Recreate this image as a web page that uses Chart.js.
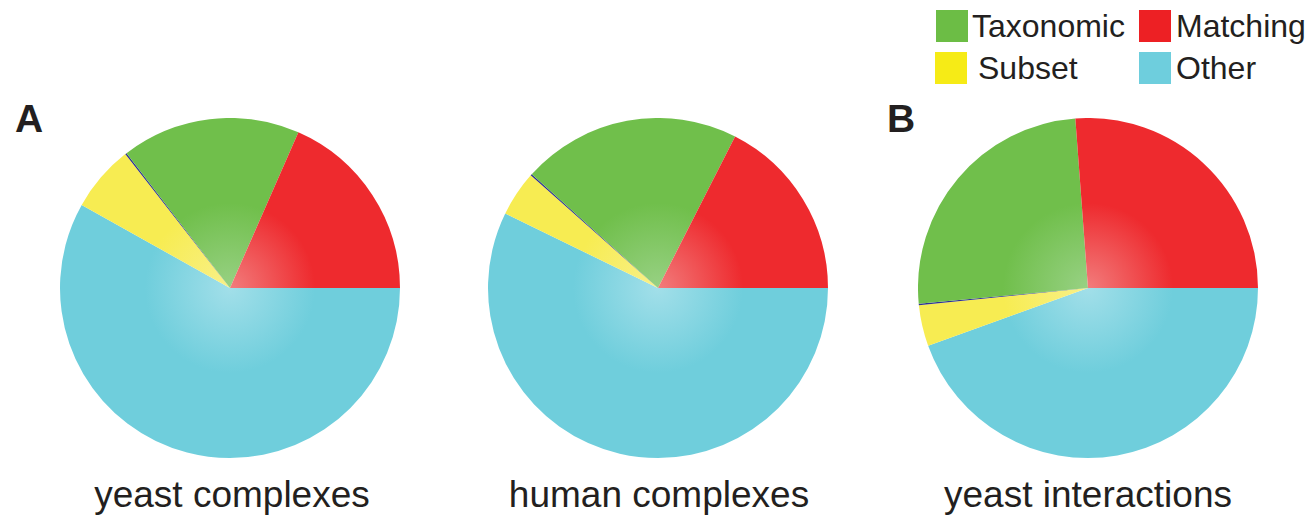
<!DOCTYPE html>
<html>
<head>
<meta charset="utf-8">
<script src="https://cdn.jsdelivr.net/npm/chart.js@4.4.1/dist/chart.umd.min.js"></script>
<style>
  html, body { margin: 0; padding: 0; background: #fff; }
  body { width: 1315px; height: 516px; position: relative; overflow: hidden; font-family: "Liberation Sans", Arial, sans-serif; color: #231f20; }
  .pie { position: absolute; width: 340px; height: 340px; }
  .title { position: absolute; font-size: 37px; white-space: nowrap; transform: translateX(-50%); line-height: 1; }
  .panel { position: absolute; font-size: 39px; font-weight: bold; line-height: 1; }
  .lg-box { position: absolute; width: 32px; height: 32px; }
  .lg-txt { position: absolute; font-size: 32px; line-height: 1; white-space: nowrap; }
</style>
</head>
<body>
<canvas id="c1" class="pie" width="340" height="340" style="left:60px;top:118px"></canvas>
<canvas id="c2" class="pie" width="340" height="340" style="left:488px;top:118px"></canvas>
<canvas id="c3" class="pie" width="340" height="340" style="left:918px;top:118px"></canvas>

<div class="panel" style="left:15px;top:99px">A</div>
<div class="panel" style="left:887px;top:99px">B</div>

<div id="titles"></div>
<div id="legend"></div>

<script>
// Categories in clockwise drawing order, starting at 3 o'clock
const categories = ["Other", "Subset", "", "Taxonomic", "Matching"];
const colors = ["#6fcedc", "#f7ec52", "#2e3192", "#70bf4b", "#ee2a2e"];
const centerColors = ["#a2dfe9", "#f8f08a", "#2e3192", "#98d184", "#f27c7c"];

// Percent values
const yeastComplexes   = [58.1, 6.3, 0.15, 17.0, 18.4];
const humanComplexes   = [57.2, 4.3, 0.15, 20.8, 17.5];
const yeastInteractions = [44.5, 3.9, 0.15, 25.3, 26.2];

const chartTitles = ["yeast complexes", "human complexes", "yeast interactions"];
const titleCenters = [232, 659, 1088];

const legendItems = ["Taxonomic", "Matching", "Subset", "Other"];
const legendColors = ["#6cbd45", "#ed2024", "#f6eb16", "#6ecedd"];

function bg(ctx) {
  const i = ctx.dataIndex;
  const chart = ctx.chart;
  const area = chart.chartArea;
  if (!area) return colors[i];
  const cx = (area.left + area.right) / 2;
  const cy = (area.top + area.bottom) / 2;
  const r = Math.min(area.right - area.left, area.bottom - area.top) / 2;
  const g = chart.ctx.createRadialGradient(cx, cy, 0, cx, cy, r);
  g.addColorStop(0, centerColors[i]);
  g.addColorStop(0.5, colors[i]);
  g.addColorStop(1, colors[i]);
  return g;
}

function makePie(id, values) {
  new Chart(document.getElementById(id), {
    type: 'pie',
    data: {
      labels: categories,
      datasets: [{ data: values, backgroundColor: bg, borderWidth: 0 }]
    },
    options: {
      responsive: false,
      animation: false,
      rotation: 90,
      layout: { padding: 0 },
      plugins: { legend: { display: false }, tooltip: { enabled: false } }
    }
  });
}

makePie('c1', yeastComplexes);
makePie('c2', humanComplexes);
makePie('c3', yeastInteractions);

const tdiv = document.getElementById('titles');
chartTitles.forEach((t, k) => {
  const d = document.createElement('div');
  d.className = 'title';
  d.textContent = t;
  d.style.left = titleCenters[k] + 'px';
  d.style.top = '476px';
  tdiv.appendChild(d);
});

const lpos = [
  { bx: 936, by: 10, tx: 972, ty: 10 },
  { bx: 1139, by: 10, tx: 1176, ty: 10 },
  { bx: 935, by: 52, tx: 978, ty: 52 },
  { bx: 1139, by: 52, tx: 1176, ty: 52 }
];
const ldiv = document.getElementById('legend');
legendItems.forEach((name, k) => {
  const b = document.createElement('div');
  b.className = 'lg-box';
  b.style.left = lpos[k].bx + 'px';
  b.style.top = lpos[k].by + 'px';
  b.style.background = legendColors[k];
  ldiv.appendChild(b);
  const t = document.createElement('div');
  t.className = 'lg-txt';
  t.textContent = name;
  t.style.left = lpos[k].tx + 'px';
  t.style.top = lpos[k].ty + 'px';
  ldiv.appendChild(t);
});
</script>
</body>
</html>
